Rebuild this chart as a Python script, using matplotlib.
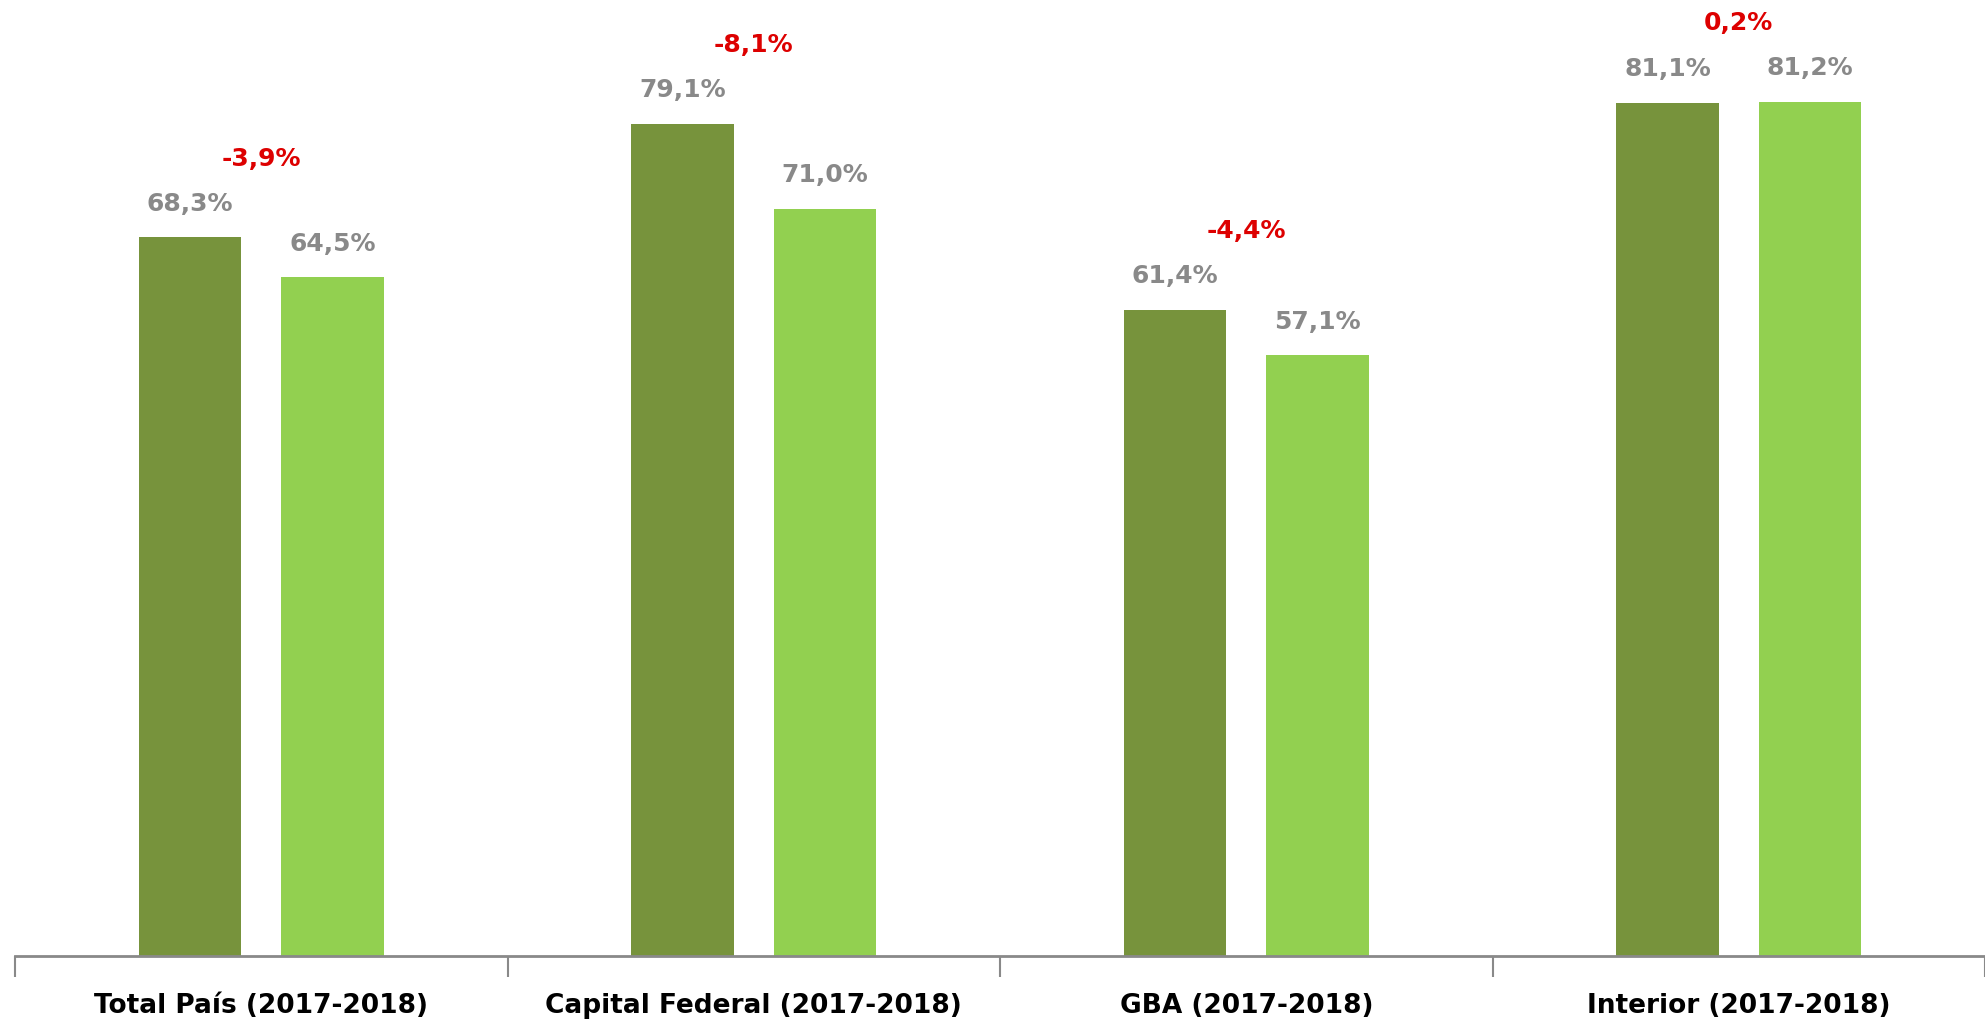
import numpy as np
import matplotlib.pyplot as plt

categories = ['Total País (2017-2018)', 'Capital Federal (2017-2018)',
              'GBA (2017-2018)', 'Interior (2017-2018)']
val_2017 = [68.3, 79.1, 61.4, 81.1]
val_2018 = [64.5, 71.0, 57.1, 81.2]
lab_2017 = ['68,3%', '79,1%', '61,4%', '81,1%']
lab_2018 = ['64,5%', '71,0%', '57,1%', '81,2%']
var_labels = ['-3,9%', '-8,1%', '-4,4%', '0,2%']

dark = '#77933C'
light = '#92D050'
grey = '#898989'
red = '#DD0000'

plt.rcParams['font.family'] = ['DejaVu Sans']

fig = plt.figure(figsize=(19.85, 10.2), dpi=100)
ax = fig.add_axes([15/1985, 63/1020, 1970/1985, 957/1020])

x = np.arange(len(categories))
w = 0.208
off = 0.1445
ax.bar(x - off, val_2017, w, color=dark)
ax.bar(x + off, val_2018, w, color=light)

for i in range(len(categories)):
    ax.text(x[i] - off, val_2017[i] + 3.3, lab_2017[i], ha='center', va='center',
            color=grey, fontsize=18, fontweight='bold')
    ax.text(x[i] + off, val_2018[i] + 3.3, lab_2018[i], ha='center', va='center',
            color=grey, fontsize=18, fontweight='bold')
    top = max(val_2017[i], val_2018[i])
    ax.text(x[i], top + 7.6, var_labels[i], ha='center', va='center',
            color=red, fontsize=18, fontweight='bold')

ax.set_xlim(-0.5, -0.5 + 1970/499)
ax.set_ylim(0, 957/10.52)
ax.set_yticks([])
ax.set_xticks(x)
ax.set_xticklabels(categories, fontsize=19, fontweight='bold')
ax.set_xticks(np.arange(-0.5, 4, 1), minor=True)
ax.tick_params(axis='x', which='major', length=0, pad=26)
ax.tick_params(axis='x', which='minor', length=15, width=1.5, color=grey)
for s in ['top', 'right', 'left']:
    ax.spines[s].set_visible(False)
ax.spines['bottom'].set_color(grey)
ax.spines['bottom'].set_linewidth(2)

fig.savefig('out.png', dpi=100)
